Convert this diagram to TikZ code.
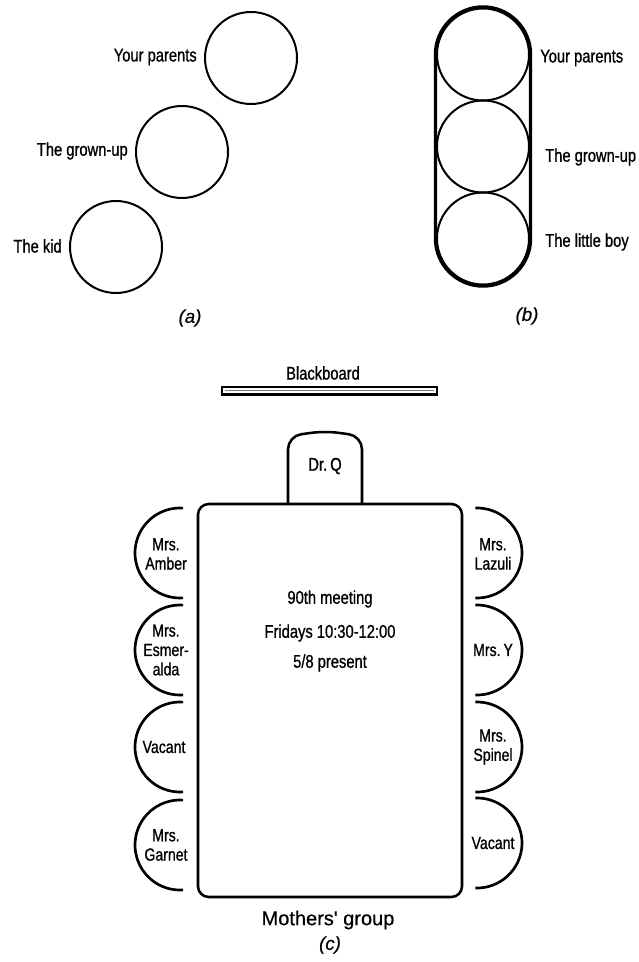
\documentclass[tikz,border=0pt]{standalone}
\usepackage{fontspec}
\setmainfont{Liberation Sans}[FakeStretch=0.8, FakeBold=0.9]
\newfontfamily\widefont{Liberation Sans}[FakeBold=0.5]
\begin{document}
\begin{tikzpicture}[x=0.75pt,y=0.75pt,
  lbl/.style={font=\fontsize{13.8}{16}\selectfont, inner sep=0pt},
  chairlbl/.style={font=\fontsize{13.2}{14.5}\selectfont, align=center, inner sep=0pt},
  captxt/.style={font=\widefont\itshape\fontsize{14}{16}\selectfont, inner sep=0pt},
  ring/.style={draw, circle, line width=1.5pt, minimum size=69pt, inner sep=0pt},
  seat/.style={line width=2pt},
  ]
\useasboundingbox (0,0) rectangle (638,-962);
% ---------- (a)
\node[ring] (ap) at (251,-58) {};
\node[ring] (ag) at (182,-152) {};
\node[ring] (ak) at (116,-247) {};
\node[lbl, anchor=east] (apl) at (197,-57) {Your parents};
\node[lbl, anchor=east] (agl) at (128,-151) {The grown-up};
\node[lbl, anchor=east] (akl) at (62,-246) {The kid};
\node[captxt] (acap) at (190,-318) {(a)};
% ---------- (b)
\draw[line width=2.6pt] (435.5,-54.5) arc[start angle=180,end angle=0,radius=47.5]
  -- (530.5,-238.5) arc[start angle=0,end angle=-180,radius=47.5] -- cycle;
\node[ring] (bp) at (483,-54.5) {};
\node[ring] (bg) at (483,-146.5) {};
\node[ring] (bk) at (483,-238.5) {};
\node[lbl, anchor=west] (bpl) at (540,-58) {Your parents};
\node[lbl, anchor=west] (bgl) at (545,-157) {The grown-up};
\node[lbl, anchor=west] (bkl) at (545,-242) {The little boy};
\node[captxt] (bcap) at (527,-316) {(b)};
% ---------- (c)
\node[lbl] (bbl) at (323,-373) {Blackboard};
\draw[line width=2.2pt] (222,-387) rectangle (437,-394.5);
\draw[line width=0.5pt, gray] (225,-390.7) -- (434,-390.7);
\node[draw, line width=1.9pt, rounded corners=8pt, minimum width=198pt,
      minimum height=294.75pt, inner sep=0pt] (table) at (330,-700.5) {};
\draw[line width=1.9pt, rounded corners=10pt] (288,-503) -- (288,-436) -- (325,-431) -- (362,-436) -- (362,-503);
\node[lbl] (drq) at (325,-466) {Dr.\,Q};
\node[lbl] (m1) at (330,-599) {90th meeting};
\node[lbl] (m2) at (330,-633) {Fridays 10:30-12:00};
\node[lbl] (m3) at (330,-663) {5/8 present};
% left chairs
\foreach \yc in {553,650,747,845}{
  \draw[seat] (180,-\yc) ++(86:45) arc[start angle=86,end angle=274,radius=45];
}
% right chairs
\foreach \yc in {553,650,747,843}{
  \draw[seat] (477,-\yc) ++(-92:45) arc[start angle=-92,end angle=92,radius=45];
}
\node[chairlbl] (l1) at (166,-554) {Mrs.\\Amber};
\node[chairlbl] (l2) at (166,-650) {Mrs.\\Esmer-\\alda};
\node[chairlbl] (l3) at (164,-747) {Vacant};
\node[chairlbl] (l4) at (166,-845) {Mrs.\\Garnet};
\node[chairlbl] (r1) at (493,-554) {Mrs.\\Lazuli};
\node[chairlbl] (r2) at (493,-650) {Mrs.\,Y};
\node[chairlbl] (r3) at (493,-747) {Mrs.\\Spinel};
\node[chairlbl] (r4) at (493,-843) {Vacant};
\node[font=\widefont\fontsize{15}{17}\selectfont, inner sep=0pt] (mg) at (328,-920) {Mothers' group};
\node[captxt] (ccap) at (330,-945) {(c)};
\end{tikzpicture}
\end{document}
